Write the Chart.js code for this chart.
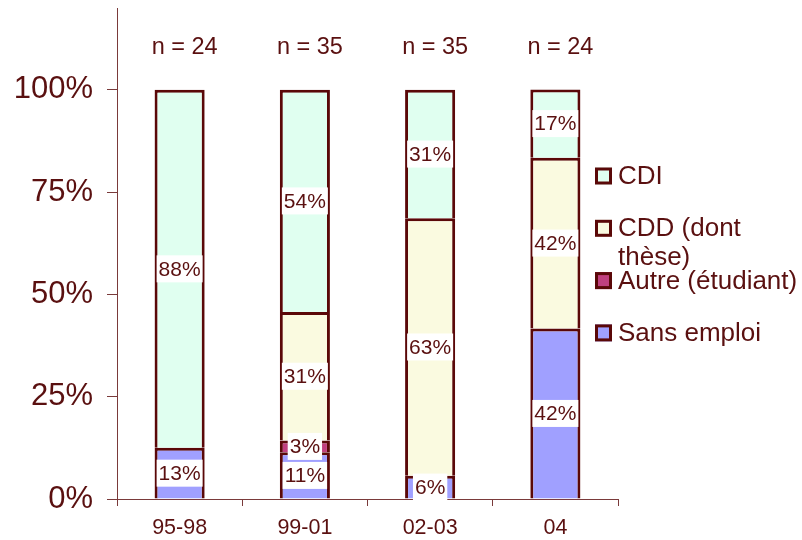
<!DOCTYPE html>
<html>
<head>
<meta charset="utf-8">
<script src="https://cdn.jsdelivr.net/npm/chart.js@4.4.1/dist/chart.umd.min.js"></script>
<style>
  html, body { margin: 0; padding: 0; background: #fff; }
</style>
</head>
<body>
<canvas id="chart" width="802" height="540"></canvas>
<script>
// periods and head counts
const periods = ["95-98", "99-01", "02-03", "04"];
const sampleSizes = [24, 35, 35, 24];

// shares in % (stacked from the bottom)
const sansEmploi = [12.5, 11.4, 5.7, 41.7];
const autre = [0, 2.9, 0, 0];
const cdd = [0, 31.4, 62.9, 41.7];
const cdi = [87.5, 54.3, 31.4, 16.7];

const yTicks = [0, 25, 50, 75, 100];

const textColor = "#5a1010";
const barBorder = "#5a0808";
const axisColor = "#7a3a3a";
const fontFamily = "'Liberation Sans', Arial, sans-serif";

Chart.defaults.font.family = fontFamily;
Chart.defaults.color = textColor;

// % value in a white box at the middle of each segment
const valueLabels = {
    id: "valueLabels",
    afterDatasetsDraw(chart) {
        const ctx = chart.ctx;
        ctx.save();
        ctx.font = "21px " + fontFamily;
        ctx.textAlign = "center";
        ctx.textBaseline = "middle";
        chart.data.datasets.forEach((ds, i) => {
            chart.getDatasetMeta(i).data.forEach((bar, j) => {
                const v = ds.data[j];
                if (!v) return;
                const txt = Math.round(v) + "%";
                const p = bar.getCenterPoint();
                const w = ctx.measureText(txt).width + 4;
                ctx.fillStyle = "#fff";
                ctx.fillRect(p.x - w / 2, p.y - 13.5, w, 27);
                ctx.fillStyle = textColor;
                ctx.fillText(txt, p.x, p.y + 1);
            });
        });
        ctx.restore();
    }
};

// "n = .." above each bar
const sampleLabels = {
    id: "sampleLabels",
    afterDraw(chart) {
        const ctx = chart.ctx;
        const { x, y } = chart.scales;
        ctx.save();
        ctx.font = "23.5px " + fontFamily;
        ctx.fillStyle = textColor;
        ctx.textAlign = "center";
        ctx.textBaseline = "middle";
        sampleSizes.forEach((n, j) => {
            ctx.fillText("n = " + n, x.getPixelForValue(j) + 5, y.getPixelForValue(110.4));
        });
        ctx.restore();
    }
};

// legend sits partly over the plot, as in the original
const sideLegend = {
    id: "sideLegend",
    afterDraw(chart) {
        const ctx = chart.ctx;
        const left = chart.chartArea.right - 23;
        const rows = [
            { lines: ["CDI"], color: "#e0fff0" },
            { lines: ["CDD (dont", "thèse)"], color: "#fafae0" },
            { lines: ["Autre (étudiant)"], color: "#c0407f" },
            { lines: ["Sans emploi"], color: "#a0a0ff" }
        ];
        ctx.save();
        ctx.font = "26px " + fontFamily;
        ctx.textBaseline = "middle";
        rows.forEach((r, i) => {
            const cy = 176 + i * 52.3;
            ctx.fillStyle = r.color;
            ctx.fillRect(left, cy - 8.5, 17, 17);
            ctx.strokeStyle = barBorder;
            ctx.lineWidth = 3;
            ctx.strokeRect(left + 1.5, cy - 7, 14, 14);
            ctx.fillStyle = textColor;
            r.lines.forEach((t, k) => ctx.fillText(t, left + 23, cy + 1 + k * 29));
        });
        ctx.restore();
    }
};

function segment(label, data, color) {
    return {
        label: label,
        data: data,
        backgroundColor: color,
        borderColor: barBorder,
        borderWidth: 3,
        borderSkipped: "start",
        barPercentage: 0.4,
        categoryPercentage: 1
    };
}

new Chart(document.getElementById("chart"), {
    type: "bar",
    data: {
        labels: periods,
        datasets: [
            segment("Sans emploi", sansEmploi, "#a0a0ff"),
            segment("Autre (étudiant)", autre, "#c0407f"),
            segment("CDD (dont thèse)", cdd, "#fafae0"),
            segment("CDI", cdi, "#e0fff0")
        ]
    },
    options: {
        responsive: false,
        animation: false,
        layout: { padding: { top: 8, right: 184, left: 0, bottom: 0 } },
        plugins: {
            legend: { display: false },
            tooltip: { enabled: false }
        },
        scales: {
            x: {
                stacked: true,
                grid: { drawOnChartArea: false, tickLength: 7, color: axisColor },
                border: { color: axisColor, width: 1 },
                ticks: { font: { size: 21.5 }, padding: 9, color: textColor },
                afterFit(scale) {
                    scale.height = 41;
                    scale.paddingLeft = 0;
                    scale.paddingRight = 0;
                }
            },
            y: {
                stacked: true,
                min: 0,
                max: 120,
                grid: { drawOnChartArea: false, tickLength: 10, color: axisColor },
                border: { color: axisColor, width: 1 },
                ticks: {
                    stepSize: 25,
                    padding: 14,
                    font: { size: 31 },
                    color: textColor,
                    callback: v => v + "%"
                },
                afterBuildTicks(scale) {
                    scale.ticks = yTicks.map(v => ({ value: v }));
                },
                afterFit(scale) {
                    scale.width = 117;
                    scale.paddingTop = 0;
                    scale.paddingBottom = 0;
                }
            }
        }
    },
    plugins: [valueLabels, sampleLabels, sideLegend]
});
</script>
</body>
</html>
